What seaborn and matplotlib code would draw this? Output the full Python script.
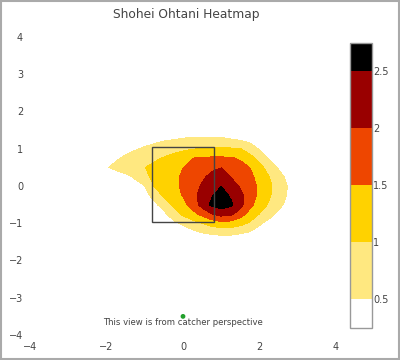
import matplotlib
matplotlib.use('Agg')
import matplotlib as mpl
import matplotlib.pyplot as plt
from matplotlib.colors import ListedColormap, BoundaryNorm
from matplotlib.patches import Rectangle
import seaborn as sns
import numpy as np

# grid the contour is drawn on (plate x, plate z)
grid_x = [-2.25, -2.0, -1.75, -1.5, -1.25, -1.0, -0.75, -0.5, -0.25, 0.0, 0.25,
          0.5, 0.75, 1.0, 1.25, 1.5, 1.75, 2.0, 2.25, 2.5, 2.75, 3.0]
grid_y = [1.5, 1.25, 1.0, 0.75, 0.5, 0.25, 0.0, -0.25, -0.5, -0.75, -1.0, -1.25, -1.5]

# pitch density, one row per grid_y value (top to bottom)
density = [
    [0, 0, 0.02, 0.05, 0.08, 0.12, 0.17, 0.22, 0.26, 0.29, 0.31, 0.32, 0.32, 0.31, 0.28, 0.24, 0.19, 0.14, 0.1, 0.06, 0.03, 0],
    [0.02, 0.05, 0.1, 0.17, 0.25, 0.32, 0.39, 0.45, 0.49, 0.53, 0.55, 0.56, 0.56, 0.55, 0.51, 0.44, 0.34, 0.28, 0.2, 0.14, 0.08, 0.03],
    [0.08, 0.17, 0.27, 0.37, 0.46, 0.55, 0.63, 0.72, 0.8, 0.88, 0.97, 1.02, 1.04, 1.05, 1.04, 1.01, 0.75, 0.45, 0.33, 0.22, 0.12, 0.05],
    [0.2, 0.32, 0.44, 0.57, 0.68, 0.8, 0.91, 1.03, 1.19, 1.34, 1.49, 1.54, 1.56, 1.56, 1.54, 1.44, 1.17, 0.83, 0.45, 0.3, 0.17, 0.08],
    [0.35, 0.47, 0.6, 0.74, 0.87, 0.99, 1.12, 1.25, 1.37, 1.49, 1.63, 1.77, 1.9, 1.98, 1.8, 1.65, 1.49, 1.14, 0.79, 0.44, 0.28, 0.15],
    [0.12, 0.22, 0.3, 0.38, 0.57, 0.9, 1.1, 1.25, 1.4, 1.56, 1.74, 1.91, 2.12, 2.28, 1.98, 1.8, 1.6, 1.34, 1.01, 0.66, 0.38, 0.2],
    [0.05, 0.1, 0.15, 0.22, 0.33, 0.49, 1.02, 1.2, 1.38, 1.58, 1.81, 2.05, 2.29, 2.49, 2.2, 1.95, 1.69, 1.41, 1.09, 0.78, 0.47, 0.3],
    [0.02, 0.05, 0.08, 0.14, 0.22, 0.35, 0.66, 1.09, 1.3, 1.53, 1.85, 2.16, 2.45, 2.74, 2.42, 2.12, 1.75, 1.38, 1.06, 0.75, 0.45, 0.28],
    [0, 0, 0.02, 0.05, 0.1, 0.2, 0.38, 0.73, 1.09, 1.36, 1.69, 2.2, 2.6, 2.76, 2.6, 2.16, 1.64, 1.25, 0.94, 0.62, 0.37, 0.22],
    [0, 0, 0, 0.01, 0.03, 0.08, 0.2, 0.38, 0.77, 1.1, 1.35, 1.64, 1.99, 2.2, 2.12, 1.75, 1.31, 0.99, 0.67, 0.4, 0.25, 0.12],
    [0, 0, 0, 0, 0.01, 0.02, 0.05, 0.15, 0.38, 0.59, 0.8, 1.01, 1.2, 1.33, 1.3, 1.15, 0.93, 0.57, 0.35, 0.2, 0.1, 0.05],
    [0, 0, 0, 0, 0, 0, 0.01, 0.05, 0.1, 0.22, 0.36, 0.51, 0.6, 0.65, 0.64, 0.56, 0.45, 0.3, 0.18, 0.1, 0.05, 0.02],
    [0, 0, 0, 0, 0, 0, 0, 0, 0.02, 0.04, 0.05, 0.08, 0.1, 0.12, 0.12, 0.1, 0.07, 0.05, 0.03, 0.01, 0, 0],
]

contour_levels = [0.5, 1.0, 1.5, 2.0, 2.5]
colorbar_edges = [0.25, 0.5, 1.0, 1.5, 2.0, 2.5, 2.75]
level_labels = ['0.5', '1', '1.5', '2', '2.5']
band_colors = ['#ffffff', '#ffe880', '#ffd200', '#ee4600', '#990000', '#000000']

zone_x = [-0.8, 0.8]
zone_y = [-0.97, 1.05]
mound_x = [0.0]
mound_y = [-3.5]
axis_ticks = [-4, -2, 0, 2, 4]

sns.set_style('white')
plt.rcParams['font.family'] = ['DejaVu Sans']

fig = plt.figure(figsize=(4, 3.6), dpi=100)
ax = fig.add_axes([0.075, 0.0694, 0.765, 0.828])

# filled contour bands
ax.contourf(grid_x, grid_y, np.array(density),
            levels=contour_levels + [3.0], colors=band_colors[1:])

# strike zone
ax.add_patch(Rectangle((zone_x[0], zone_y[0]), zone_x[1] - zone_x[0], zone_y[1] - zone_y[0],
                       fill=False, edgecolor='#444444', lw=1))

sns.scatterplot(x=mound_x, y=mound_y, ax=ax, color='#22a02c', s=12,
                edgecolor='none', legend=False)
ax.text(0, -3.67, 'This view is from catcher perspective', ha='center', va='center',
        fontsize=6.1, color='#444444')

ax.set_xlim(-4, 4)
ax.set_ylim(-4, 4)
ax.set_xticks(axis_ticks)
ax.set_yticks(range(-4, 5))
for s in ax.spines.values():
    s.set_visible(False)
ax.tick_params(direction='out', length=3, width=0.8, color='#888888',
               labelsize=7, labelcolor='#444444', pad=2)

# colorbar
cax = fig.add_axes([0.875, 0.0889, 0.055, 0.7917])
cmap = ListedColormap(band_colors)
norm = BoundaryNorm(colorbar_edges, cmap.N)
cb = fig.colorbar(mpl.cm.ScalarMappable(norm=norm, cmap=cmap), cax=cax,
                  spacing='proportional', ticks=contour_levels)
cb.ax.set_yticklabels(level_labels)
cb.minorticks_off()
cb.outline.set_edgecolor('#999999')
cb.outline.set_linewidth(1)
cb.ax.tick_params(length=0, labelsize=7, colors='#444444', pad=1)

fig.text(0.465, 0.961, 'Shohei Ohtani Heatmap', ha='center', va='center',
         fontsize=8.8, color='#444444')

fig.patches.append(Rectangle((0.002, 0.002), 0.996, 0.996, transform=fig.transFigure,
                             fill=False, edgecolor='#aaaaaa', lw=1.5))

fig.savefig('out.png', dpi=100)
